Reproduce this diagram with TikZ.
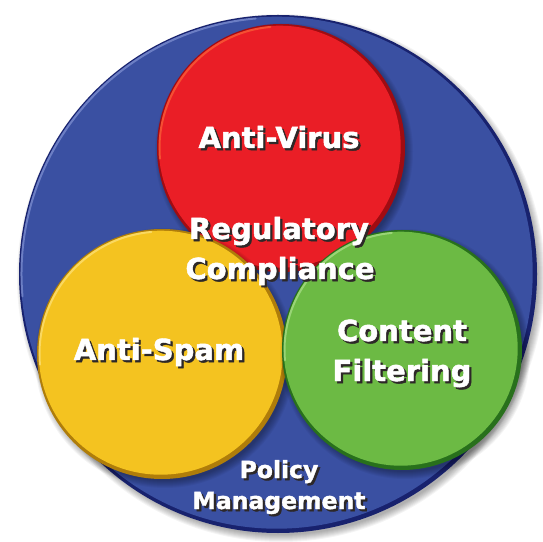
\documentclass[tikz,border=0pt]{standalone}
\usepackage{fontspec}
\setmainfont{DejaVu Sans}[BoldFeatures={FakeBold=1.6}]

\definecolor{discblue}{RGB}{58,80,162}
\definecolor{discbluerim}{RGB}{24,34,110}
\definecolor{discbluelight}{RGB}{150,165,225}
\definecolor{avred}{RGB}{234,30,38}
\definecolor{avredrim}{RGB}{160,12,18}
\definecolor{avredlight}{RGB}{255,120,60}
\definecolor{asyellow}{RGB}{244,195,32}
\definecolor{asyellowrim}{RGB}{175,125,10}
\definecolor{asyellowlight}{RGB}{255,235,150}
\definecolor{cfgreen}{RGB}{108,186,68}
\definecolor{cfgreenrim}{RGB}{40,112,28}
\definecolor{cfgreenlight}{RGB}{190,235,160}
\definecolor{textshade}{RGB}{45,40,40}

% #1 name, #2 centre, #3 radius, #4 body colour, #5 rim colour, #6 highlight colour
\newcommand\bubble[6]{%
  \coordinate (#1) at (#2);
  \foreach \k in {0,...,7}
    \fill[black, opacity=0.045] ([shift={(3,-4)}]#1) circle[radius=#3-2+\k];
  \fill[#5] (#1) circle[radius=#3];
  \fill[#4] ([shift={(-1.3,1.3)}]#1) circle[radius=#3-3];
  \draw[#6, opacity=0.55, line width=2pt, line cap=round]
    ([shift={(95:#3-2.5)}]#1) arc[start angle=95, end angle=185, radius=#3-2.5];
}

% white lettering with a dark drop shadow behind it
\newcommand\shaded[1]{%
  \makebox[0pt][l]{\hspace*{2.2pt}\raisebox{-2.2pt}{\textcolor{textshade}{#1}}}#1}

% #1 name, #2 baseline point, #3 font size, #4 text
\newcommand\shadelabel[4]{%
  \node[lbl, font=\fontsize{#3}{#3}\selectfont\bfseries] (#1) at (#2) {\shaded{#4}};
}

\tikzset{
  lbl/.style={text=white, inner sep=0pt, anchor=base},
}

\begin{document}
\begin{tikzpicture}[x=1pt, y=1pt]
\useasboundingbox (0,0) rectangle (543,541);
\fill[white] (0,0) rectangle (543,541);

% outer disc: policy management
\bubble{pm}{278,267}{259}{discblue}{discbluerim}{discbluelight}

% inner discs
\bubble{av}{281,393}{124}{avred}{avredrim}{avredlight}
\bubble{as}{162,187}{125}{asyellow}{asyellowrim}{asyellowlight}
\bubble{cf}{402,191}{120}{cfgreen}{cfgreenrim}{cfgreenlight}

% labels
\shadelabel{avl}{279,393}{29}{Anti-Virus}
\shadelabel{rc1}{279,302}{29}{Regulatory}
\shadelabel{rc2}{280,262}{29}{Compliance}
\shadelabel{asl}{159,181}{29}{Anti-Spam}
\shadelabel{cf1}{402,200}{29}{Content}
\shadelabel{cf2}{402,160}{29}{Filtering}
\shadelabel{pm1}{279,63}{23.5}{Policy}
\shadelabel{pm2}{279,32}{23.5}{Management}
\end{tikzpicture}
\end{document}
